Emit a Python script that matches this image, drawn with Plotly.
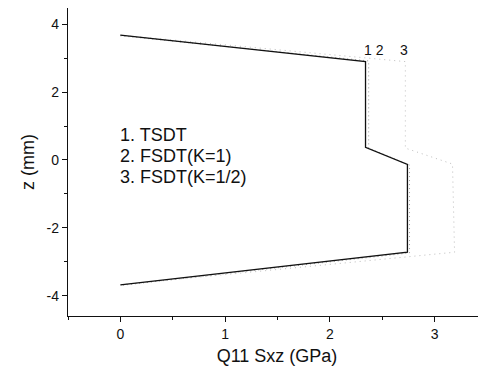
import plotly.graph_objects as go

# Q11 Sxz (GPa) vs z (mm)
tsdt_x = [0.0, 2.34, 2.34, 2.74, 2.74, 0.0]
tsdt_z = [3.68, 2.90, 0.37, -0.13, -2.72, -3.68]

fsdt1_x = [0.0, 2.37, 2.37, 2.76, 2.76, 0.0]
fsdt1_z = [3.66, 2.92, 0.35, -0.15, -2.74, -3.70]

fsdt2_x = [0.0, 2.72, 2.72, 3.17, 3.19, 0.0]
fsdt2_z = [3.68, 2.90, 0.35, -0.12, -2.72, -3.68]

legend_lines = ["1. TSDT", "2. FSDT(K=1)", "3. FSDT(K=1/2)"]
legend_z = [0.74, 0.12, -0.50]
x_ticks = [0, 1, 2, 3]
x_ticktext = ["0", "1", "2", "3"]
y_ticks = [-4, -2, 0, 2, 4]
y_ticktext = ["-4", "-2", "0", "2", "4"]

fig = go.Figure()
fig.add_trace(go.Scatter(x=fsdt2_x, y=fsdt2_z, mode="lines",
                         line=dict(color="#bdbdbd", width=1, dash="1px,4px")))
fig.add_trace(go.Scatter(x=fsdt1_x, y=fsdt1_z, mode="lines",
                         line=dict(color="#9a9a9a", width=1, dash="1px,3px")))
fig.add_trace(go.Scatter(x=tsdt_x, y=tsdt_z, mode="lines",
                         line=dict(color="#111111", width=1.3)))

font = "Liberation Sans, Arial, sans-serif"
for t, z in zip(legend_lines, legend_z):
    fig.add_annotation(x=-0.02, y=z, text=t, showarrow=False,
                       xanchor="left", yanchor="middle",
                       font=dict(family=font, size=18, color="#111"))
fig.add_annotation(x=2.42, y=3.25, text="1 2", showarrow=False,
                   font=dict(family=font, size=14, color="#111"))
fig.add_annotation(x=2.71, y=3.25, text="3", showarrow=False,
                   font=dict(family=font, size=14, color="#111"))

fig.update_layout(
    width=478, height=364,
    margin=dict(l=60, r=0, t=0, b=56),
    paper_bgcolor="white", plot_bgcolor="white",
    showlegend=False,
    font=dict(family=font, size=14, color="#111"),
)
fig.update_xaxes(range=[-0.5, 3.49], tickvals=x_ticks, ticktext=x_ticktext,
                 showgrid=False, zeroline=False, automargin=False,
                 showline=True, linecolor="#111", linewidth=1.3,
                 ticks="outside", ticklen=5, tickcolor="#111",
                 minor=dict(dtick=0.5, tick0=0, ticks="outside", ticklen=3, tickcolor="#111"),
                 title=dict(text="Q11 Sxz (GPa)", font=dict(size=18), standoff=8),
                 tickfont=dict(size=14))
fig.update_yaxes(range=[-4.6, 4.48], tickvals=y_ticks, ticktext=y_ticktext,
                 showgrid=False, zeroline=False, automargin=False,
                 showline=True, linecolor="#111", linewidth=1.3,
                 ticks="outside", ticklen=5, tickcolor="#111",
                 minor=dict(dtick=1, tick0=0, ticks="outside", ticklen=3, tickcolor="#111"),
                 title=dict(text="z (mm)", font=dict(size=18), standoff=7),
                 tickfont=dict(size=14))

fig.write_html("out.html")
